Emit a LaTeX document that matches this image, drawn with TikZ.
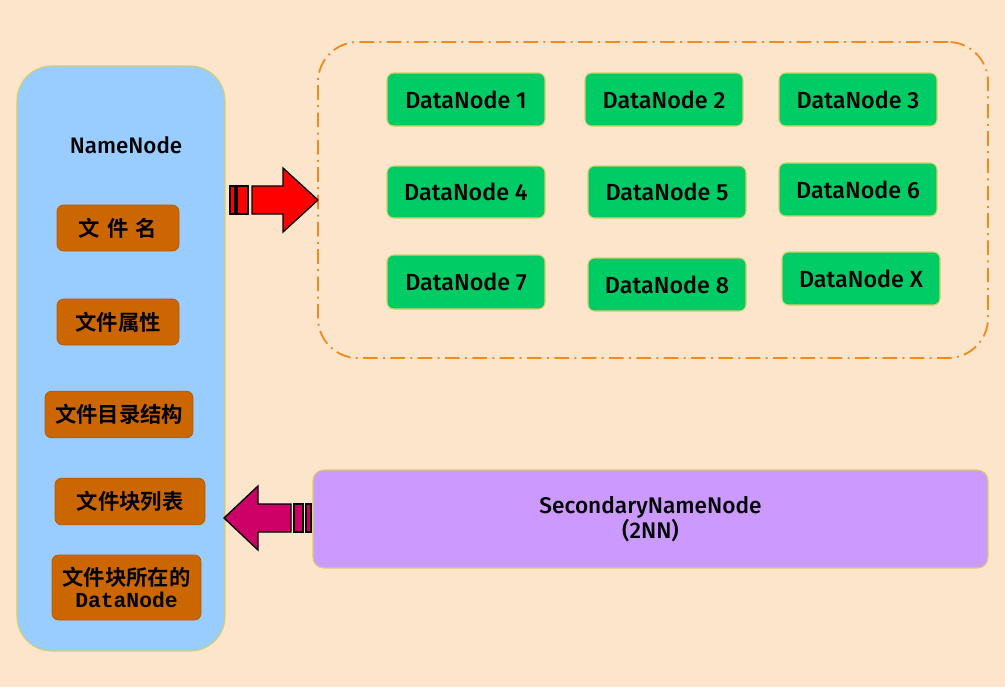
\documentclass[tikz,border=0pt]{standalone}
\usepackage{fontspec}
\setmainfont{Fira Sans}[UprightFont={* Medium}]
\newfontfamily\cjk{Noto Sans CJK SC}[BoldFont={Noto Sans CJK SC Bold}]
\newfontfamily\monob{Liberation Mono}
\definecolor{bg}{HTML}{FDE5CC}
\definecolor{nnblue}{HTML}{99CCFF}
\definecolor{edge}{HTML}{D6CF6A}
\definecolor{orbox}{HTML}{CC6600}
\definecolor{orline}{HTML}{B85C00}
\definecolor{dngreen}{HTML}{00CC66}
\definecolor{dash}{HTML}{F08C1E}
\definecolor{purp}{HTML}{CC99FF}
\definecolor{pink}{HTML}{CC0066}
\tikzset{
  attr/.style={draw=orline, fill=orbox, rounded corners=5pt, line width=0.6pt, font=\cjk\bfseries\fontsize{16}{19}\selectfont, align=center, inner sep=0pt},
  dn/.style={draw=edge, fill=dngreen, rounded corners=5pt, line width=0.8pt, font=\fontsize{17.5}{20}\selectfont, inner sep=0pt},
}
\begin{document}
\begin{tikzpicture}[x=0.75pt,y=-0.75pt]
\fill[bg] (0,0) rectangle (1005,687);
\useasboundingbox (0,0) rectangle (1005,687);
% NameNode panel
\node[draw=edge, fill=nnblue, rounded corners=26pt, line width=0.8pt, minimum width=156pt, minimum height=438.75pt, inner sep=0pt] (nn) at (121,358.5) {};
\node[font=\fontsize{16.8}{19}\selectfont] (nnlabel) at (126,145) {NameNode};
\node[attr, minimum width=91.5pt, minimum height=34.5pt] (a1) at (118,228) {文\,\,件\,\,名};
\node[attr, minimum width=91.5pt, minimum height=34.5pt] (a2) at (118,322) {文件属性};
\node[attr, minimum width=111pt, minimum height=35pt] (a3) at (119,414.5) {文件目录结构};
\node[attr, minimum width=112.5pt, minimum height=35pt] (a4) at (130,501.5) {文件块列表};
\node[attr, minimum width=111.75pt, minimum height=48.75pt] (a5) at (126.5,587.5) {文件块所在的\\[-2pt]{\monob\bfseries\fontsize{16}{17}\selectfont DataNode}};
% DataNode cluster
\node[draw=dash, dash pattern=on 11pt off 4pt on 1.5pt off 4pt, line width=1.4pt, rounded corners=30pt, minimum width=502.5pt, minimum height=237pt, inner sep=0pt] (cluster) at (653,200) {};
\node[dn, minimum width=118.5pt, minimum height=39.75pt] (d1) at (466,99.5) {DataNode 1};
\node[dn, minimum width=118.5pt, minimum height=39.75pt] (d2) at (664,99.5) {DataNode 2};
\node[dn, minimum width=118.5pt, minimum height=39.75pt] (d3) at (858,99.5) {DataNode 3};
\node[dn, minimum width=118.5pt, minimum height=39pt] (d4) at (466,192) {DataNode 4};
\node[dn, minimum width=118.5pt, minimum height=39pt] (d5) at (667,192) {DataNode 5};
\node[dn, minimum width=118.5pt, minimum height=39.75pt] (d6) at (858,189.5) {DataNode 6};
\node[dn, minimum width=118.5pt, minimum height=40.5pt] (d7) at (466,282) {DataNode 7};
\node[dn, minimum width=118.5pt, minimum height=39.75pt] (d8) at (667,284.5) {DataNode 8};
\node[dn, minimum width=118.5pt, minimum height=39.75pt] (dx) at (861,278.5) {DataNode X};
% Secondary NameNode
\node[draw=edge, fill=purp, rounded corners=8pt, line width=0.8pt, minimum width=506.25pt, minimum height=73.5pt, inner sep=0pt, align=center, font=\fontsize{17}{19}\selectfont] (snn) at (650.5,519) {SecondaryNameNode\\(2NN)};
% red arrow NameNode -> cluster
\begin{scope}[draw=black, line width=1pt, fill=red]
\filldraw (230,186) rectangle (235,214);
\filldraw (237,186) rectangle (248,214);
\filldraw (252,186) -- (283,186) -- (283,168) -- (318,200) -- (283,232) -- (283,214) -- (252,214) -- cycle;
\end{scope}
% pink arrow SNN -> NameNode
\begin{scope}[draw=black, line width=1pt, fill=pink]
\filldraw (306,504) rectangle (311,532);
\filldraw (294,504) rectangle (303,532);
\filldraw (291,504) -- (258,504) -- (258,486) -- (224,518) -- (258,550) -- (258,532) -- (291,532) -- cycle;
\end{scope}
\end{tikzpicture}
\end{document}
